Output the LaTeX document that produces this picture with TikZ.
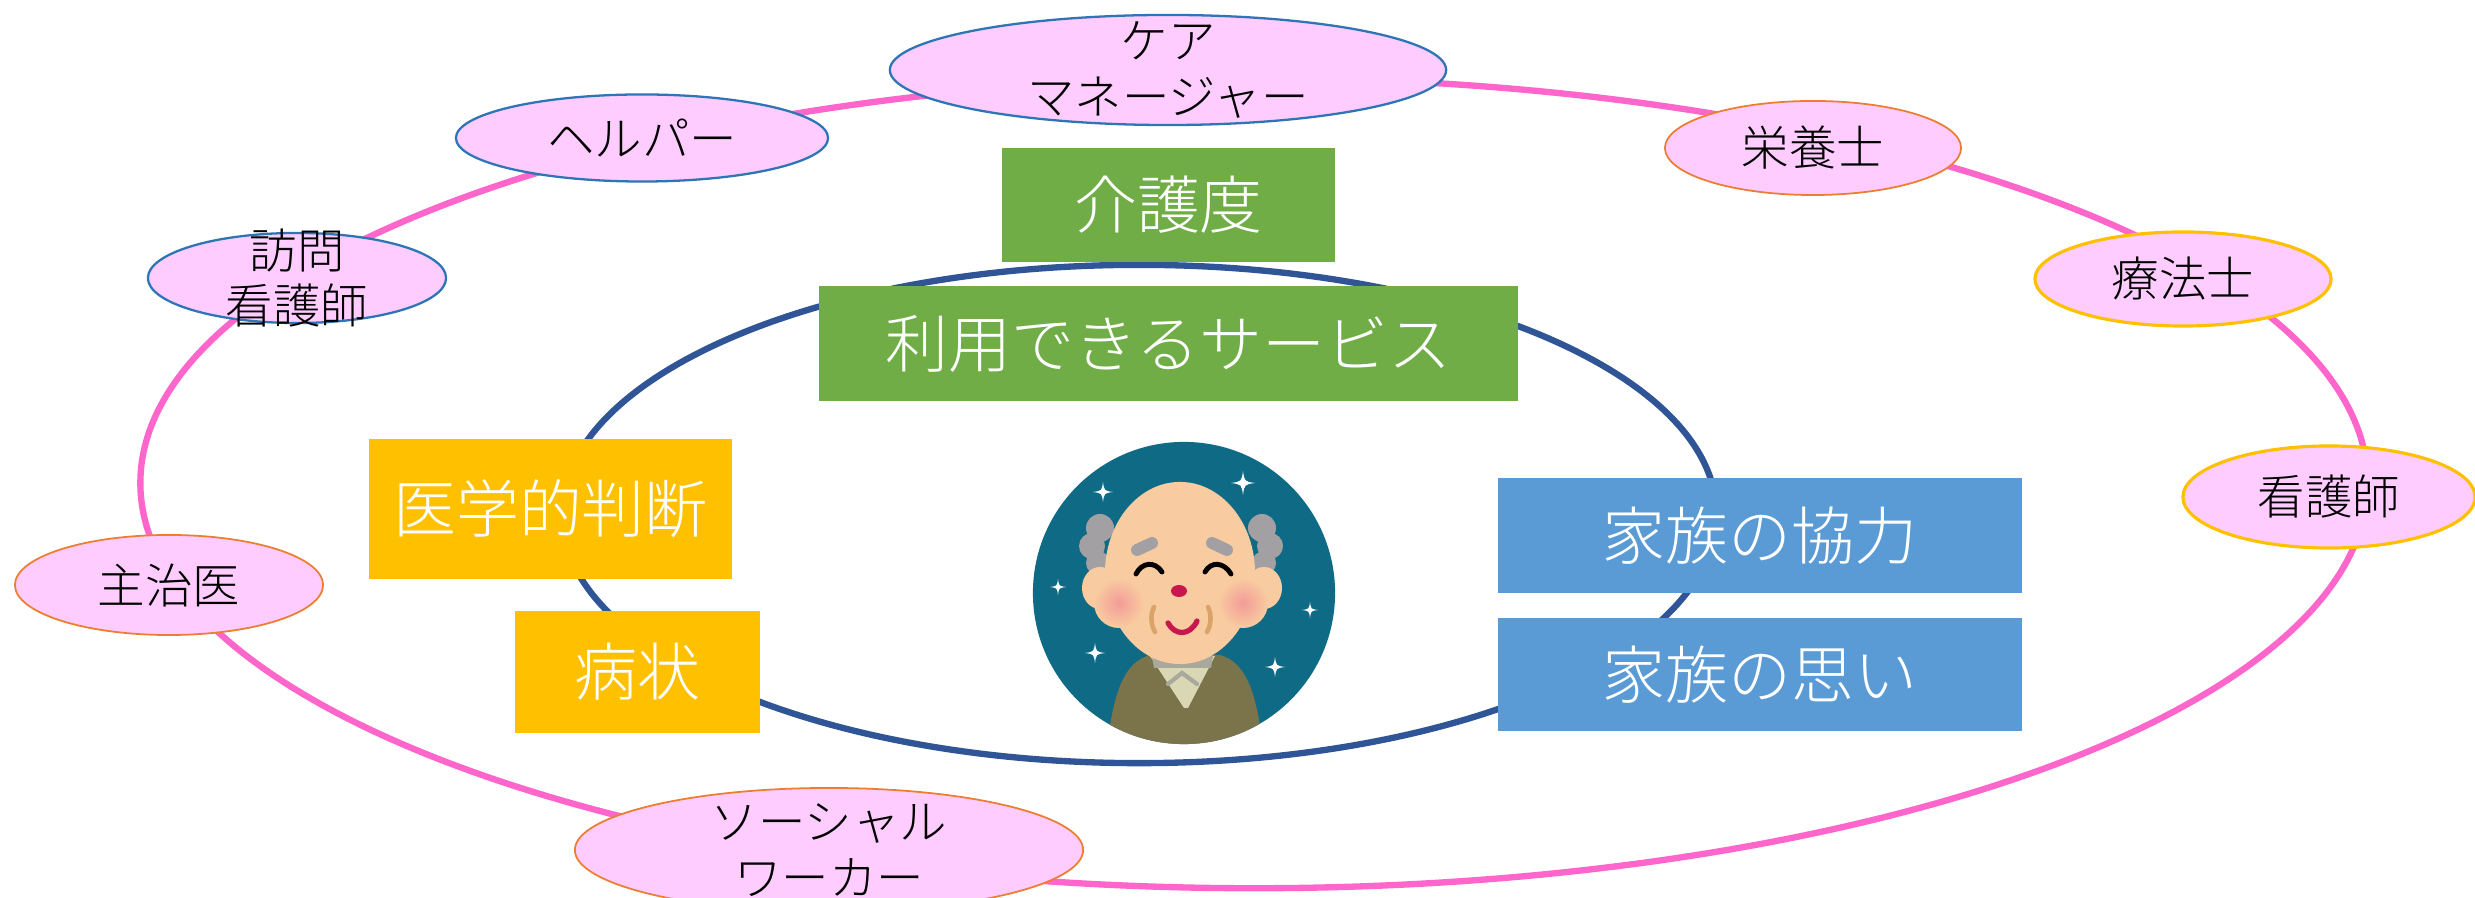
\documentclass[tikz,border=0pt]{standalone}
\usepackage{fontspec}
\setmainfont{Noto Sans CJK JP}
\newfontfamily\thinjp{Noto Sans CJK JP Light}
\usetikzlibrary{shapes.geometric}

\definecolor{ringpink}{HTML}{FF66CC}
\definecolor{ringnavy}{HTML}{2F5597}
\definecolor{pillfill}{HTML}{FFCCFF}
\definecolor{edgeblue}{HTML}{2E75B6}
\definecolor{edgeorange}{HTML}{ED7D31}
\definecolor{edgegold}{HTML}{FFC000}
\definecolor{cardgreen}{HTML}{70AD47}
\definecolor{cardgold}{HTML}{FFC000}
\definecolor{cardblue}{HTML}{5B9BD5}
% portrait colours
\definecolor{bgteal}{HTML}{0F6A85}
\definecolor{skin}{HTML}{F9CBA0}
\definecolor{blush}{HTML}{F29C98}
\definecolor{hairgray}{HTML}{A3A0A3}
\definecolor{coat}{HTML}{7B744B}
\definecolor{shirt}{HTML}{DAD8B4}
\definecolor{shirtline}{HTML}{A9A89C}
\definecolor{lipred}{HTML}{C8174F}
\definecolor{wrinkle}{HTML}{D9A36A}

\tikzset{
  sparkle/.pic={
    \fill[white] (0,-1) .. controls (0.12,-0.12) .. (1,0)
                 .. controls (0.12,0.12) .. (0,1)
                 .. controls (-0.12,0.12) .. (-1,0)
                 .. controls (-0.12,-0.12) .. cycle;
  }
}

\begin{document}
\begin{tikzpicture}[x=0.01cm,y=-0.01cm,
  pill/.style={ellipse, fill=pillfill, inner sep=0pt},
  pillblue/.style={pill, draw=edgeblue, line width=0.65pt},
  pillorange/.style={pill, draw=edgeorange, line width=0.5pt},
  pillgold/.style={pill, draw=edgegold, line width=0.9pt},
  lbl/.style={inner sep=0pt, align=center, text=black,
              font=\thinjp\fontsize{13.5}{15.8}\selectfont},
  card/.style={rectangle, inner sep=0pt, text=white,
               font=\thinjp\fontsize{17.9}{21}\selectfont},
  ring/.style={line width=1.8pt},
]
\useasboundingbox (0,0) rectangle (2475,898);

% outer ring of supporting professionals
\draw[ring, ringpink] (1254,483) ellipse [x radius=11.13cm, y radius=4.05cm];

\node[pillblue, minimum width=5.56cm, minimum height=1.10cm] (cm) at (1168,70) {};
\node[lbl] (cm-t) at (cm) {ケア\\マネージャー};
\node[pillblue, minimum width=3.72cm, minimum height=0.87cm] (hp) at (642,138) {};
\node[lbl] (hp-t) at (hp) {ヘルパー};
\node[pillblue, minimum width=2.98cm, minimum height=0.90cm] (hn) at (297,278) {};
\node[lbl] (hn-t) at (hn) {訪問\\看護師};
\node[pillorange, minimum width=3.08cm, minimum height=1.00cm] (dr) at (169,585) {};
\node[lbl] (dr-t) at (dr) {主治医};
\node[pillorange, minimum width=5.08cm, minimum height=1.24cm] (sw) at (829,850) {};
\node[lbl] (sw-t) at (sw) {ソーシャル\\ワーカー};
\node[pillorange, minimum width=2.96cm, minimum height=0.94cm] (nt) at (1813,148) {};
\node[lbl] (nt-t) at (nt) {栄養士};
\node[pillgold, minimum width=2.96cm, minimum height=0.94cm] (th) at (2183,279) {};
\node[lbl] (th-t) at (th) {療法士};
\node[pillgold, minimum width=2.92cm, minimum height=1.02cm] (ns) at (2329,497) {};
\node[lbl] (ns-t) at (ns) {看護師};

% inner ring
\draw[ring, ringnavy] (1139,514) ellipse [x radius=5.77cm, y radius=2.49cm];

% cards
\node[card, fill=cardgreen, minimum width=3.33cm, minimum height=1.14cm] (kaigo) at (1168.5,205) {介護度};
\node[card, fill=cardgreen, minimum width=6.99cm, minimum height=1.15cm] (riyou) at (1168.5,343.5) {利用できるサービス};
\node[card, fill=cardgold, minimum width=3.63cm, minimum height=1.40cm] (igaku) at (550.5,509) {医学的判断};
\node[card, fill=cardgold, minimum width=2.45cm, minimum height=1.22cm] (byojo) at (637.5,672) {病状};
\node[card, fill=cardblue, minimum width=5.24cm, minimum height=1.15cm] (kyoryoku) at (1760,535.5) {家族の協力};
\node[card, fill=cardblue, minimum width=5.24cm, minimum height=1.13cm] (omoi) at (1760,674.5) {家族の思い};

% portrait of the elderly man
\fill[bgteal] (1184,593) circle [radius=1.51cm];
\begin{scope}
  \clip (1184,593) circle [radius=1.51cm];
  \fill[coat] (1150,655) .. controls (1125,662) and (1112,690) .. (1106,760)
              -- (1264,760) .. controls (1258,690) and (1245,662) .. (1220,655) -- cycle;
\end{scope}
\fill[shirt] (1150,656) -- (1215,656) -- (1188,708) -- (1184,708) -- cycle;
\fill[shirtline] (1152,656) -- (1213,656) -- (1211,668) -- (1154,668) -- cycle;
\draw[shirtline, line width=1.2pt, line cap=round] (1168,684) -- (1182,673) -- (1197,684);

% hair tufts and ears
\foreach \hx/\hy/\hr in {1100/528/14, 1092/546/13, 1098/563/12, 1262/528/14, 1270/546/13, 1264/563/12}
  \fill[hairgray] (\hx,\hy) circle [radius=\hr*0.01cm];
\fill[skin] (1100,588) ellipse [x radius=0.18cm, y radius=0.21cm];
\fill[skin] (1264,588) ellipse [x radius=0.18cm, y radius=0.21cm];

% face
\fill[skin] (1180,573) ellipse [x radius=0.75cm, y radius=0.91cm];
\shade[inner color=blush, outer color=skin] (1119,603) circle [radius=0.25cm];
\shade[inner color=blush, outer color=skin] (1243,603) circle [radius=0.25cm];

% brows, eyes, nose, mouth, wrinkles
\draw[hairgray, line width=3.4pt, line cap=round] (1137,550) -- (1152,543);
\draw[hairgray, line width=3.4pt, line cap=round] (1212,543) -- (1227,550);
\draw[black, line width=1.4pt, line cap=round] (1136,574) .. controls (1142,562) and (1155,561) .. (1162,572);
\draw[black, line width=1.4pt, line cap=round] (1205,572) .. controls (1211,561) and (1224,562) .. (1231,574);
\fill[lipred] (1179,591) ellipse [x radius=0.08cm, y radius=0.06cm];
\draw[lipred, line width=1.5pt, line cap=round] (1168,623) .. controls (1175,636) and (1190,636) .. (1197,621);
\draw[wrinkle, line width=1.3pt, line cap=round] (1154,607) .. controls (1150,615) and (1151,625) .. (1155,632);
\draw[wrinkle, line width=1.3pt, line cap=round] (1208,607) .. controls (1212,615) and (1211,625) .. (1207,632);

% sparkles
\pic[scale=10] at (1103,492) {sparkle};
\pic[scale=12] at (1243,483) {sparkle};
\pic[scale=8] at (1058,587) {sparkle};
\pic[scale=8] at (1310,610) {sparkle};
\pic[scale=10] at (1095,653) {sparkle};
\pic[scale=10] at (1275,667) {sparkle};
\end{tikzpicture}
\end{document}
